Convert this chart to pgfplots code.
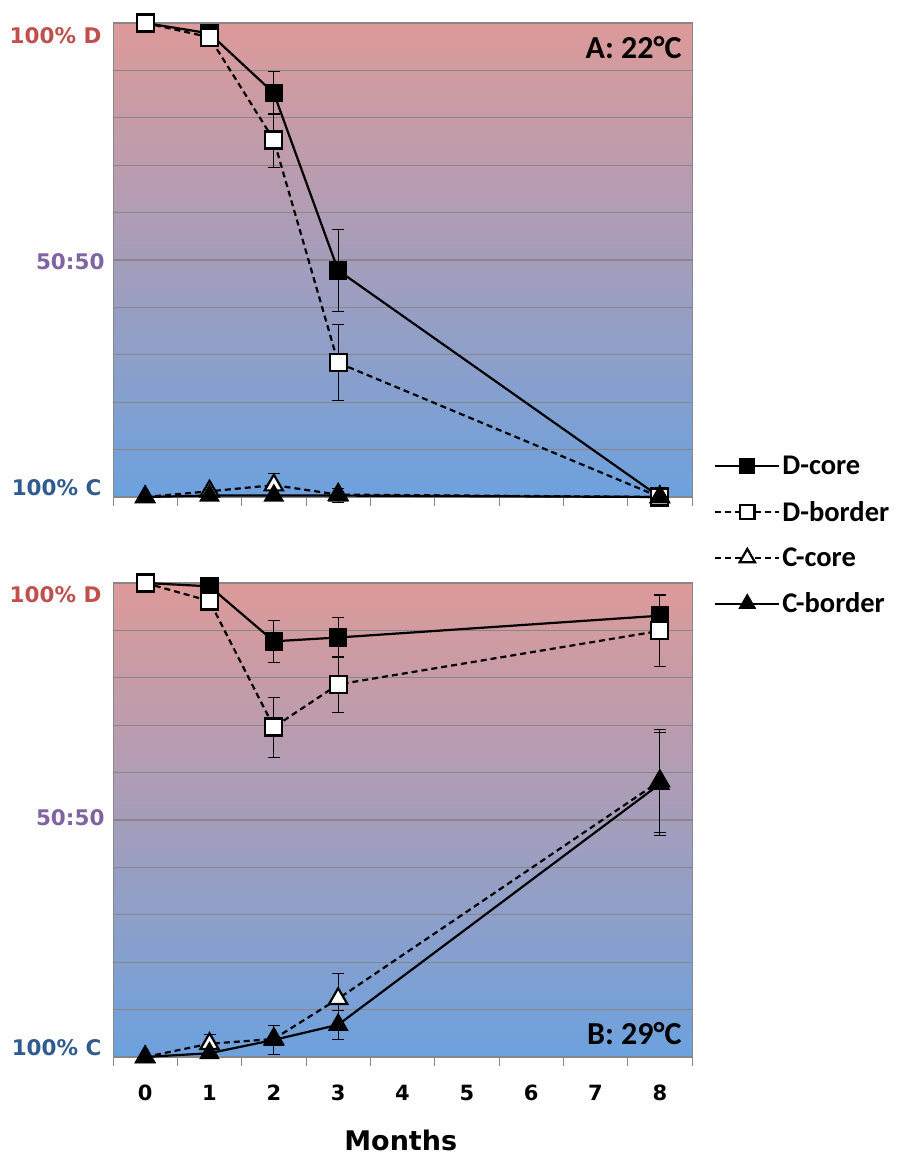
\documentclass[border=0pt]{standalone}
\usepackage{pgfplots}
\pgfplotsset{compat=1.18}
\usepackage{pgfplotstable}
\usepackage{fontspec}
\newfontfamily\dvfont{DejaVu Sans}
\newfontfamily\calfont{Carlito}
\definecolor{cTop}{RGB}{221,154,153}
\definecolor{cMid}{RGB}{168,156,196}
\definecolor{cBot}{RGB}{108,161,222}
\definecolor{cGrid}{RGB}{135,135,135}
\definecolor{lD}{RGB}{192,80,77}
\definecolor{lM}{RGB}{128,100,162}
\definecolor{lC}{RGB}{47,91,143}

% Panel A (22 C)
\pgfplotstableread{
x y e
0 100 0
1 97.8 0
2 85.2 4.5
3 47.8 8.7
8 0 0
}\ADcore
\pgfplotstableread{
x y e
0 100 0
1 97.0 0
2 75.3 5.7
3 28.3 8.0
8 0 0
}\ADborder
\pgfplotstableread{
x y e
0 0 0
1 1.2 0
2 2.5 2.5
3 0.5 0
8 0 0
}\ACcore
\pgfplotstableread{
x y e
0 0 0
1 0.3 0
2 0.3 0
3 0.3 1.5
8 0 0
}\ACborder
% Panel B (29 C)
\pgfplotstableread{
x y e
0 100 0
1 99.3 0
2 87.7 4.4
3 88.5 4.3
8 93.1 4.4
}\BDcore
\pgfplotstableread{
x y e
0 100 0
1 96.2 0
2 69.6 6.3
3 78.6 6.0
8 89.9 7.5
}\BDborder
\pgfplotstableread{
x y e
0 0 0
1 2.8 2.0
2 3.8 0
3 12.3 5.3
8 58.2 10.8
}\BCcore
\pgfplotstableread{
x y e
0 0 0
1 0.8 0
2 3.6 3.0
3 6.8 3.0
8 57.6 10.8
}\BCborder

\tikzset{ylab/.style={anchor=east, font=\dvfont\bfseries\fontsize{21.5}{21.5}\selectfont}}
\pgfplotsset{
  panel/.style={
    scale only axis, width=579pt, height=474pt,
    xmin=-0.5, xmax=8.5, ymin=0, ymax=100,
    xtick={0,...,8},
    minor xtick={-0.5,0.5,...,8.5},
    xtick pos=bottom,
    major x tick style={draw=none},
    minor x tick style={cGrid, line width=1pt},
    minor tick length=9pt,
    tick align=outside,
    ytick={0,10,...,100}, yticklabels={},
    major y tick style={draw=none},
    ymajorgrids, major grid style={cGrid, line width=1.1pt},
    axis line style={cGrid, line width=1pt},
    axis background/.style={shade, top color=cTop, middle color=cMid, bottom color=cBot},
    clip=false,
    error bars/y dir=both, error bars/y explicit,
    error bars/error bar style={solid, black, line width=0.9pt},
    error bars/error mark options={solid, rotate=90, mark size=6pt, line width=0.9pt, black},
    legend image code/.code={
      \draw[mark repeat=2, mark phase=2, #1, every mark/.append style={scale=0.85}]
        plot coordinates {(0pt,0pt) (32pt,0pt) (64pt,0pt)};
    },
  },
  dcore/.style={solid, black, line width=2.2pt, mark=square*, mark size=8.5pt,
    mark options={solid, fill=black, draw=black, line width=1.5pt}},
  dborder/.style={black, line width=2.2pt, dash pattern=on 6pt off 4pt, mark=square*, mark size=8.5pt,
    mark options={solid, fill=white, draw=black, line width=2.2pt}},
  ccore/.style={black, line width=2.2pt, dash pattern=on 6pt off 4pt, mark=triangle*, mark size=10.5pt,
    mark options={solid, fill=white, draw=black, line width=2.2pt}},
  cborder/.style={solid, black, line width=2.2pt, mark=triangle*, mark size=10.5pt,
    mark options={solid, fill=black, draw=black, line width=1.5pt}},
}

\begin{document}
\begin{tikzpicture}
\path[use as bounding box] (0,0) rectangle (903pt,1155pt);

\begin{axis}[panel, at={(113pt,658pt)}, anchor=south west,
  xticklabels={},
  legend style={at={(rel axis cs:1.038,-0.081)}, anchor=west, draw=none, fill=none,
    font=\calfont\bfseries\fontsize{28.5}{28.5}\selectfont, row sep=21pt, inner xsep=0pt,
    /tikz/every even column/.append style={column sep=8pt}},
  legend cell align=left]
\addplot[dcore] table[x=x, y=y, y error=e] {\ADcore};
\addplot[dborder] table[x=x, y=y, y error=e] {\ADborder};
\addplot[ccore] table[x=x, y=y, y error=e] {\ACcore};
\addplot[cborder] table[x=x, y=y, y error=e] {\ACborder};
\legend{D-core, D-border, C-core, C-border}
\node[ylab, text=lD] at (rel axis cs:0,0.973) [xshift=-8pt] {100\% D};
\node[ylab, text=lM] at (rel axis cs:0,0.497) [xshift=-5pt] {50:50};
\node[ylab, text=lC] at (rel axis cs:0,0.019) [xshift=-8pt] {100\% C};
\node[anchor=east, font=\calfont\bfseries\fontsize{32}{32}\selectfont] at (rel axis cs:0.988,0.949) {A: 22°C};
\end{axis}

\begin{axis}[panel, at={(113pt,98pt)}, anchor=south west,
  xticklabels={0,1,2,3,4,5,6,7,8},
  xticklabel style={font=\dvfont\bfseries\fontsize{21}{21}\selectfont, yshift=-20pt}]
\addplot[dcore] table[x=x, y=y, y error=e] {\BDcore};
\addplot[dborder] table[x=x, y=y, y error=e] {\BDborder};
\addplot[ccore] table[x=x, y=y, y error=e] {\BCcore};
\addplot[cborder] table[x=x, y=y, y error=e] {\BCborder};
\node[ylab, text=lD] at (rel axis cs:0,0.975) [xshift=-8pt] {100\% D};
\node[ylab, text=lM] at (rel axis cs:0,0.504) [xshift=-5pt] {50:50};
\node[ylab, text=lC] at (rel axis cs:0,0.019) [xshift=-8pt] {100\% C};
\node[anchor=east, font=\calfont\bfseries\fontsize{32}{32}\selectfont] at (rel axis cs:0.988,0.05) {B: 29°C};
\node[font=\dvfont\bfseries\fontsize{27}{27}\selectfont] at (rel axis cs:0.497,0) [yshift=-83pt] {Months};
\end{axis}
\end{tikzpicture}
\end{document}
